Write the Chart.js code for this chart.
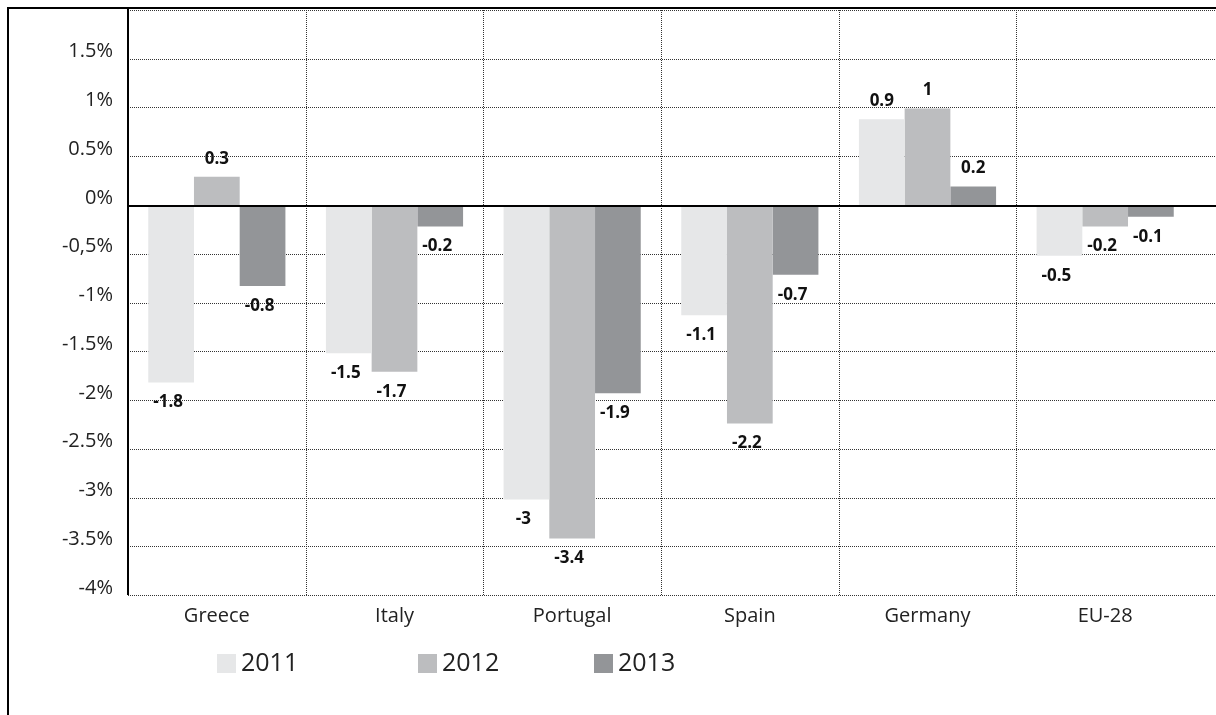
<!DOCTYPE html>
<html>
<head>
<meta charset="utf-8">
<script src="https://cdn.jsdelivr.net/npm/chart.js@4/dist/chart.umd.min.js"></script>
<style>
  html, body { margin: 0; padding: 0; background: #fff; overflow: hidden; }
  #frame { position: absolute; left: 7px; top: 7px; width: 1400px; height: 900px;
           border-left: 2px solid #000; border-top: 2px solid #000; }
  #wrap { position: absolute; left: 0; top: 0; width: 1216px; height: 715px; }
</style>
</head>
<body>
<div id="frame"></div>
<div id="wrap"><canvas id="c" width="1216" height="715"></canvas></div>
<script>
// ---- data ----
const categories = ['Greece', 'Italy', 'Portugal', 'Spain', 'Germany', 'EU-28'];
const seriesNames = ['2011', '2012', '2013'];
const values2011 = [-1.82, -1.52, -3.02, -1.13, 0.88, -0.52];
const values2012 = [0.29, -1.71, -3.42, -2.24, 0.99, -0.22];
const values2013 = [-0.83, -0.22, -1.93, -0.715, 0.19, -0.12];
const yTickLabels = ['-4%', '-3.5%', '-3%', '-2.5%', '-2%', '-1.5%', '-1%', '-0,5%', '0%', '0.5%', '1%', '1.5%', ''];

// ---- style ----
const colors = ['#e6e7e8', '#bcbdbf', '#939598'];
const FONT = '"Open Sans", "Noto Sans", sans-serif';
const legendStartX = [217, 418, 594];

const gridPlugin = {
  id: 'customGrid',
  beforeDatasetsDraw(chart) {
    const { ctx, chartArea: a, scales: { x, y } } = chart;
    ctx.save();
    ctx.strokeStyle = '#333';
    ctx.lineWidth = 1;
    ctx.setLineDash([1, 1]);
    y.ticks.forEach(t => {
      if (t.value === 0) return;
      const py = Math.round(y.getPixelForValue(t.value)) + 0.5;
      ctx.beginPath(); ctx.moveTo(a.left, py); ctx.lineTo(chart.width, py); ctx.stroke();
    });
    for (let i = 1; i < x.ticks.length; i++) {
      const px = Math.round((x.getPixelForTick(i - 1) + x.getPixelForTick(i)) / 2) + 0.5;
      ctx.beginPath(); ctx.moveTo(px, a.top); ctx.lineTo(px, a.bottom); ctx.stroke();
    }
    ctx.restore();
  },
  afterDatasetsDraw(chart) {
    const { ctx, chartArea: a, scales: { y } } = chart;
    ctx.save();
    // zero line
    const zy = Math.round(y.getPixelForValue(0)) + 1;
    ctx.strokeStyle = '#000'; ctx.lineWidth = 2; ctx.setLineDash([]);
    ctx.beginPath(); ctx.moveTo(a.left, zy); ctx.lineTo(chart.width, zy); ctx.stroke();
    // y axis line
    ctx.beginPath(); ctx.moveTo(a.left, 8); ctx.lineTo(a.left, a.bottom); ctx.stroke();
    // data labels
    ctx.font = 'bold 17px ' + FONT;
    ctx.fillStyle = '#111';
    ctx.textAlign = 'center';
    ctx.textBaseline = 'middle';
    chart.data.datasets.forEach((ds, di) => {
      const meta = chart.getDatasetMeta(di);
      meta.data.forEach((bar, i) => {
        const v = ds.data[i];
        const txt = String(Number(v.toFixed(1)));
        if (v >= 0) ctx.fillText(txt, bar.x, bar.y - 18);
        else ctx.fillText(txt, bar.x - 3, bar.y + 20);
      });
    });
    ctx.restore();
  },
  afterDraw(chart) {
    const { ctx } = chart;
    ctx.save();
    ctx.font = '25px ' + FONT;
    ctx.textBaseline = 'middle';
    ctx.textAlign = 'left';
    chart.data.datasets.forEach((ds, di) => {
      const lx = legendStartX[di];
      ctx.fillStyle = ds.backgroundColor;
      ctx.fillRect(lx, 654, 19, 19);
      ctx.fillStyle = '#222';
      ctx.fillText(ds.label, lx + 24, 664);
    });
    ctx.restore();
  }
};

new Chart(document.getElementById('c'), {
  type: 'bar',
  data: {
    labels: categories,
    datasets: [
      { label: seriesNames[0], data: values2011, backgroundColor: colors[0] },
      { label: seriesNames[1], data: values2012, backgroundColor: colors[1] },
      { label: seriesNames[2], data: values2013, backgroundColor: colors[2] }
    ]
  },
  options: {
    responsive: false,
    animation: false,
    events: [],
    layout: { padding: { left: 0, top: 10, right: 22, bottom: 0 } },
    datasets: { bar: { barPercentage: 1, categoryPercentage: 0.772, borderWidth: 0 } },
    plugins: { legend: { display: false }, tooltip: { enabled: false } },
    scales: {
      x: {
        grid: { display: false, drawTicks: false },
        border: { display: false },
        ticks: { color: '#222', font: { family: FONT, size: 20 }, padding: 9, maxRotation: 0 },
        afterFit(s) { s.height = 120; s.paddingLeft = 0; s.paddingRight = 0; }
      },
      y: {
        min: -4, max: 2,
        grid: { display: false, drawTicks: false },
        border: { display: false },
        ticks: {
          stepSize: 0.5,
          color: '#222',
          font: { family: FONT, size: 20 },
          padding: 15,
          labelOffset: -7,
          callback: (v, i) => yTickLabels[i]
        },
        afterFit(s) { s.width = 128; s.paddingTop = 0; s.paddingBottom = 0; }
      }
    }
  },
  plugins: [gridPlugin]
});
</script>
</body>
</html>
